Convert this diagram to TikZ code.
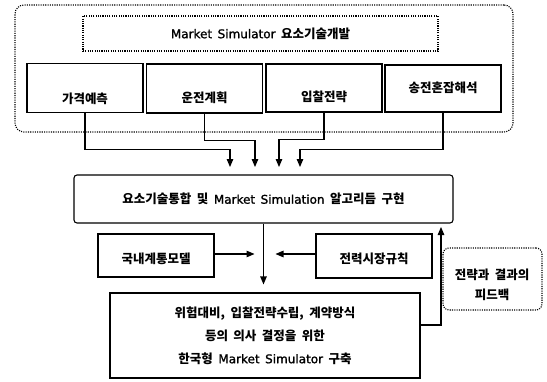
\documentclass[tikz,border=0pt]{standalone}
\usepackage{fontspec}
\setmainfont{Noto Sans CJK KR}
\newfontfamily\latfam{DejaVu Sans}[FakeBold=1.3]
\newcommand{\ltn}[1]{{\latfam\mdseries\fontsize{12}{14}\selectfont #1}}
\newcommand{\wspace}{\spaceskip=5.5pt plus 1pt\relax}
\usetikzlibrary{arrows.meta}
\tikzset{
  dotbox/.style={draw, line width=1.1pt, dash pattern=on 1.1pt off 1.2pt, inner sep=0pt},
  solidbox/.style={draw, line width=1.1pt, inner sep=0pt, minimum width=116pt},
  lbl/.style={inner sep=0pt, font=\fontsize{12.5}{15}\selectfont\bfseries\wspace},
  arr/.style={line width=1.1pt, -{Triangle[length=8pt,width=6.5pt]}},
}
\begin{document}
\begin{tikzpicture}[x=1pt,y=-1pt]
\useasboundingbox (0,0) rectangle (547,381);
% outer dotted group
\node[dotbox, rounded corners=9pt, minimum width=498pt, minimum height=127pt] (outer) at (264,68.5) {};
\node[dotbox, minimum width=355pt, minimum height=35pt, lbl] (title) at (260.5,33.5) {\ltn{Market Simulator} 요소기술개발};
% four boxes
\node[solidbox, minimum height=49pt] (b1) at (85,88) {};
\node[solidbox, minimum height=49pt] (b2) at (204.5,88.5) {};
\node[solidbox, minimum height=48pt] (b3) at (324,88) {};
\node[solidbox, minimum height=47pt] (b4) at (443,88.5) {};
\node[lbl] (t1) at (85,99) {가격예측};
\node[lbl] (t2) at (204.5,98) {운전계획};
\node[lbl] (t3) at (324,97) {입찰전략};
\node[lbl] (t4) at (443,88) {송전혼잡해석};
% middle box
\node[solidbox, rounded corners=3pt, minimum width=379pt, minimum height=48pt, lbl] (mid) at (263.5,199) {요소기술통합 및 \ltn{Market Simulation} 알고리듬 구현};
% arrow tips
\coordinate (a1) at (230,167);
\coordinate (a2) at (255,167);
\coordinate (a3) at (279,167);
\coordinate (a4) at (300,167);
\draw[arr] (b1.south) -- ++(0,36.5) -| (a1);
\draw[arr] (b2.south) -- ++(0,26.5) -| (a2);
\draw[arr] (b3.south) -- ++(0,26.5) -| (a3);
\draw[arr] (b4.south) -- ++(0,36.5) -| (a4);
% side boxes
\node[solidbox, minimum height=43pt] (k) at (156,255.5) {};
\node[lbl] (kt) at (156,258.5) {국내계통모델};
\node[solidbox, minimum height=44pt] (r) at (374,256) {};
\node[lbl] (rt) at (374,259) {전력시장규칙};
% bottom box
\node[solidbox, minimum width=310pt, minimum height=85pt, lbl, align=center] (bot) at (265,335.5)
  {위험대비, 입찰전략수립, 계약방식\\[8pt]등의 의사 결정을 위한\\[8pt]한국형 \ltn{Market Simulator} 구축};
% main flow
\draw[arr, shorten >=8pt] (mid.south) -- (mid.south |- bot.north);
\draw[arr, shorten >=9pt] (k.east |- 0,254) -- (mid.south |- 0,254);
\draw[arr, shorten >=12pt] (r.west |- 0,254) -- (mid.south |- 0,254);
% feedback
\coordinate (fb) at (441,227);
\draw[arr] ([yshift=10.5pt]bot.east) -| (fb);
\node[dotbox, rounded corners=6pt, minimum width=99pt, minimum height=62pt] (fbox) at (492.5,279) {};
\node[lbl, align=center] (fbt) at (492,284.5) {전략과 결과의\\[5pt]피드백};
\end{tikzpicture}
\end{document}
